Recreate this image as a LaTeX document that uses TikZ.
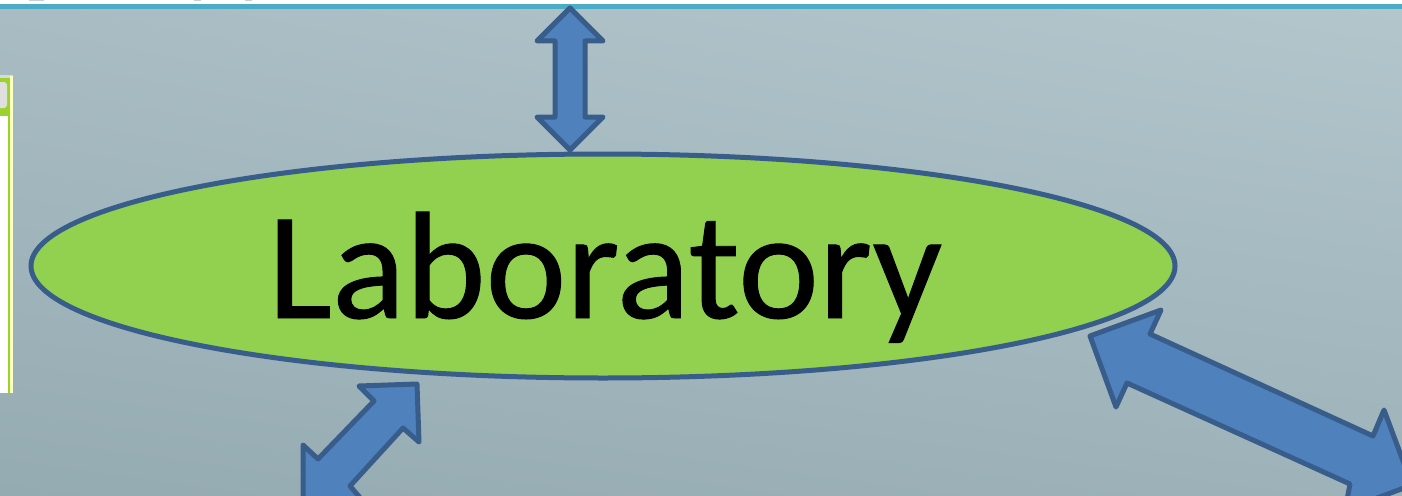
\documentclass[tikz,border=0pt]{standalone}
\usepackage{fontspec}
\setmainfont{Carlito}
\newfontfamily\labfont{Carlito}[FakeBold=0.6]
\usetikzlibrary{shapes.geometric,shadings}
\definecolor{bgtl}{HTML}{A9BCC3}
\definecolor{bgtr}{HTML}{B2C6CC}
\definecolor{bgbl}{HTML}{95ABB2}
\definecolor{bgbr}{HTML}{9DB2B9}
\definecolor{tealbar}{HTML}{4BACC6}
\definecolor{arrowfill}{HTML}{4F81BD}
\definecolor{arrowline}{HTML}{385D8A}
\definecolor{labgreen}{HTML}{92D050}
\definecolor{framegreen}{HTML}{9BD22D}
\definecolor{framepale}{HTML}{FBFFC0}
\definecolor{smudge}{HTML}{C5CEDF}
\tikzset{
  dblarrow/.style={fill=arrowfill,draw=arrowline,line width=5pt,line join=round},
  labnode/.style={ellipse,fill=labgreen,draw=arrowline,line width=5pt,minimum width=1144pt,minimum height=224pt,inner sep=0pt}
}
\begin{document}
\begin{tikzpicture}[x=1pt,y=-1pt]
\useasboundingbox (0,0) rectangle (1402,495);
\fill[white] (0,0) rectangle (1402,495);
\shade[lower left=bgbl,lower right=bgbr,upper left=bgtl,upper right=bgtr] (0,8) rectangle (1402,495);
\fill[tealbar] (0,4.5) rectangle (1402,9);
\fill[smudge] (29,0) rectangle (44,1.2);
\fill[smudge] (194,0) rectangle (201,1.2);
\fill[smudge] (245,0) rectangle (252,1.2);
% left window fragment
\fill[white] (0,76) rectangle (13,393);
\fill[gray!30] (0,75) rectangle (13,78);
\fill[framepale] (10,76) rectangle (13,393);
\fill[framegreen] (7.5,78) rectangle (10,393);
\fill[framegreen] (0,78) rectangle (10,116);
\fill[gray!25,rounded corners=3pt] (-6,82) rectangle (7,108);
\fill[white] (0,116) rectangle (7.5,393);
% ellipse
\node[labnode] (lab) at (603,266) {};
\node[font=\labfont\fontsize{153pt}{153pt}\selectfont,inner sep=0pt,anchor=base] (labtext) at (605,318) {Laboratory};
% arrows
\draw[dblarrow] (570,8) -- (603,41) -- (585,41) -- (585,117) -- (603,117) -- (570,150) -- (537,117) -- (555,117) -- (555,41) -- (537,41) -- cycle;
\draw[dblarrow] (417,384) -- (419,442) -- (403,428) -- (350,486) -- (362,500) -- (303,500) -- (303,445) -- (318,459) -- (374,401) -- (359,386) -- cycle;
\draw[dblarrow] (1090,336) -- (1161,310) -- (1150,334) -- (1373,436) -- (1384,410) -- (1412,485) -- (1345,510) -- (1350,484) -- (1127,383) -- (1116,407) -- cycle;
\end{tikzpicture}
\end{document}
